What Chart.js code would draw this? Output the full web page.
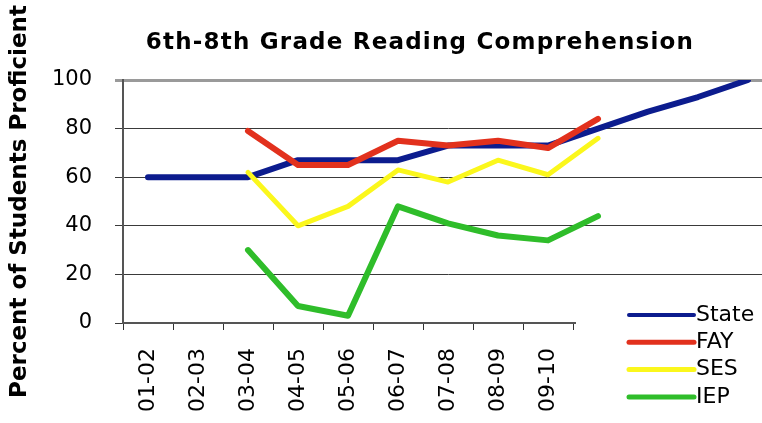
<!DOCTYPE html>
<html>
<head>
<meta charset="utf-8">
<script src="https://cdn.jsdelivr.net/npm/chart.js@4"></script>
<style>
    html, body { margin: 0; padding: 0; background: #ffffff; overflow: hidden; }
    #wrap { width: 762px; height: 423px; overflow: hidden; position: relative; }
    canvas { display: block; }
</style>
</head>
<body>
<div id="wrap"><canvas id="reading-chart" width="840" height="423"></canvas></div>
<script>
// 학년도 (마지막 4개는 범례에 가려져 라벨이 보이지 않음)
const seasons = ['01-02', '02-03', '03-04', '04-05', '05-06', '06-07', '07-08',
                 '08-09', '09-10', '10-11', '11-12', '12-13', '13-14'];
const visibleSeasons = 9;

// 시리즈 값 (% proficient)
const stateValues = [60, 60, 60, 67, 67, 67, 73, 73, 73, 80, 87, 93, 100];
const fayValues   = [null, null, 79, 65, 65, 75, 73, 75, 72, 84, null, null, null];
const sesValues   = [null, null, 62, 40, 48, 63, 58, 67, 61, 76, null, null, null];
const iepValues   = [null, null, 30, 7, 3, 48, 41, 36, 34, 44, null, null, null];

const yTicks = [0, 20, 40, 60, 80, 100];

const chartTitle = '6th-8th Grade Reading Comprehension';
const FONT = "'DejaVu Sans', Verdana, sans-serif";

// 제목 (원본처럼 캔버스 가운데보다 조금 오른쪽에 배치)
const titleText = {
    id: 'titleText',
    afterDraw(chart) {
        const ctx = chart.ctx;
        ctx.save();
        ctx.font = 'bold 23px ' + FONT;
        if ('letterSpacing' in ctx) ctx.letterSpacing = '1.2px';
        ctx.fillStyle = '#000000';
        ctx.textAlign = 'center';
        ctx.textBaseline = 'middle';
        ctx.fillText(chartTitle, 420, 43);
        ctx.restore();
    }
};

// 우측 하단 범례 (흰 박스가 축 끝부분을 덮음)
const cornerLegend = {
    id: 'cornerLegend',
    afterDraw(chart) {
        const ctx = chart.ctx;
        ctx.save();
        ctx.fillStyle = '#ffffff';
        ctx.fillRect(576, 296, 300, 140);
        ctx.font = '22px ' + FONT;
        ctx.textBaseline = 'middle';
        ctx.textAlign = 'left';
        chart.data.datasets.forEach((ds, i) => {
            const y = 315 + i * 27.3;
            ctx.strokeStyle = ds.borderColor;
            ctx.lineWidth = i === 0 ? 4 : 5;
            ctx.lineCap = 'round';
            ctx.beginPath();
            ctx.moveTo(629, y);
            ctx.lineTo(694, y);
            ctx.stroke();
            ctx.fillStyle = '#000000';
            ctx.fillText(ds.label, 696, y);
        });
        ctx.restore();
    }
};

function lineSet(label, data, color, width, order) {
    return {
        label: label,
        data: data,
        borderColor: color,
        backgroundColor: color,
        borderWidth: width,
        pointRadius: 0,
        pointHoverRadius: 0,
        tension: 0,
        fill: false,
        borderCapStyle: 'round',
        borderJoinStyle: 'round',
        order: order
    };
}

const canvas = document.getElementById('reading-chart');
new Chart(canvas, {
    type: 'line',
    data: {
        labels: seasons,
        datasets: [
            lineSet('State', stateValues, '#0c1c8e', 6, 3),
            lineSet('FAY', fayValues, '#e2311d', 6, 2),
            lineSet('SES', sesValues, '#fbf71c', 5, 1),
            lineSet('IEP', iepValues, '#2fbd2a', 6, 0)
        ]
    },
    options: {
        responsive: false,
        animation: false,
        devicePixelRatio: 1,
        layout: { padding: { top: 80, left: 0, right: 67, bottom: 0 } },
        plugins: {
            legend: { display: false },
            tooltip: { enabled: false },
            title: { display: false }
        },
        scales: {
            x: {
                type: 'category',
                offset: true,
                afterFit(scale) { scale.height = 100; },
                border: { display: true, color: '#555555', width: 2 },
                grid: {
                    display: true,
                    drawOnChartArea: false,
                    drawTicks: true,
                    tickLength: 7,
                    color: '#333333',
                    offset: true
                },
                ticks: {
                    autoSkip: false,
                    minRotation: 90,
                    maxRotation: 90,
                    padding: 18,
                    color: '#000000',
                    font: { family: FONT, size: 22 },
                    callback: (v, i) => (i < visibleSeasons ? seasons[i] : '')
                }
            },
            y: {
                min: 0,
                max: 100,
                afterFit(scale) { scale.width = 123; },
                afterBuildTicks(scale) { scale.ticks = yTicks.map(v => ({ value: v })); },
                border: { display: true, color: '#555555', width: 2 },
                grid: {
                    drawTicks: true,
                    tickLength: 8,
                    color: ctx => (ctx.tick && ctx.tick.value === 100 ? '#9a9a9a' : '#3a3a3a'),
                    lineWidth: ctx => (ctx.tick && ctx.tick.value === 100 ? 3 : 1)
                },
                ticks: {
                    padding: 23,
                    color: '#000000',
                    font: { family: FONT, size: 21 }
                },
                title: {
                    display: true,
                    text: 'Percent of Students Proficient',
                    color: '#000000',
                    font: { family: FONT, size: 23, weight: 'bold' },
                    padding: { top: 6, bottom: 0 }
                }
            }
        }
    },
    plugins: [titleText, cornerLegend]
});
</script>
</body>
</html>
